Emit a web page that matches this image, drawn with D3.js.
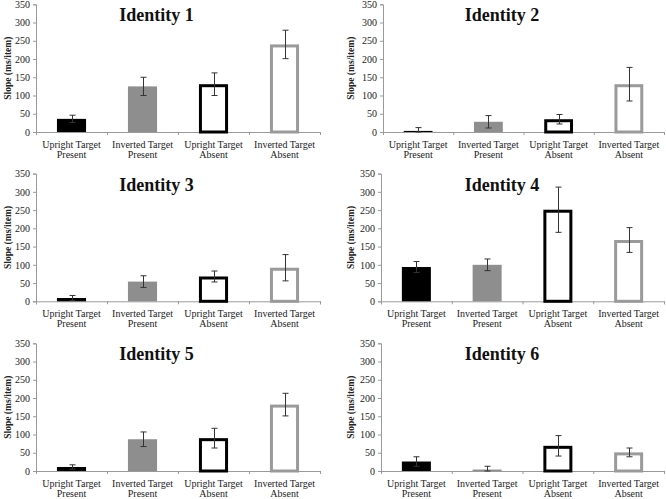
<!DOCTYPE html>
<html>
<head>
<meta charset="utf-8">
<script src="https://cdn.jsdelivr.net/npm/d3@7/dist/d3.min.js"></script>
<style>
  html, body { margin: 0; padding: 0; background: #fff; }
  svg { display: block; }
</style>
</head>
<body>
<svg id="chart" width="666" height="499"></svg>
<script>
// ---- data ----
const categoryLine1 = ["Upright Target", "Inverted Target", "Upright Target", "Inverted Target"];
const categoryLine2 = ["Present", "Present", "Absent", "Absent"];
const panelTitles = ["Identity 1", "Identity 2", "Identity 3", "Identity 4", "Identity 5", "Identity 6"];
const yTicks = [0, 50, 100, 150, 200, 250, 300, 350];
const yLabel = "Slope (ms/item)";

const meansId1 = [36, 125, 131, 240];
const meansId2 = [3, 28, 35, 131];
const meansId3 = [9, 54, 68, 92];
const meansId4 = [94, 100, 251, 168];
const meansId5 = [11, 87, 90, 182];
const meansId6 = [26, 4, 69, 51];

const errId1 = [10, 25, 31, 39];
const errId2 = [9, 17, 13, 46];
const errId3 = [7, 16, 15, 36];
const errId4 = [15, 16, 62, 34];
const errId5 = [6, 20, 27, 31];
const errId6 = [13, 9, 28, 12];

const allMeans = [meansId1, meansId2, meansId3, meansId4, meansId5, meansId6];
const allErrs = [errId1, errId2, errId3, errId4, errId5, errId6];

// ---- layout ----
const FONT = "Liberation Serif";
const colX0 = [36, 381];
const colX1 = [320, 664];
const rowBottom = [132, 301.3, 471];
const plotH = 127.7;
const titleX = [156.5, 502];
const ylabX = [7, 350];

const barStyle = [
  { fill: "#000000", stroke: null },
  { fill: "#8e8e8e", stroke: null },
  { fill: "#ffffff", stroke: "#000000" },
  { fill: "#ffffff", stroke: "#9a9a9a" }
];
const outlineW = 3;

const svg = d3.select("#chart");

panelTitles.forEach((title, i) => {
  const col = i % 2, row = Math.floor(i / 2);
  const x0 = colX0[col] + (i === 1 ? 2 : 0), x1 = colX1[col];
  const yb = rowBottom[row], yt = yb - plotH;

  const x = d3.scaleBand().domain(d3.range(4)).range([x0, x1])
    .paddingInner(0.59).paddingOuter(0.295);
  const y = d3.scaleLinear().domain([0, 350]).range([yb, yt]);

  const g = svg.append("g");

  // y axis
  const yAxis = g.append("g").attr("transform", `translate(${x0},0)`)
    .call(d3.axisLeft(y).tickValues(yTicks).tickSize(3).tickPadding(3));
  yAxis.attr("font-family", null).attr("font-size", null);
  yAxis.select(".domain").attr("stroke", "#9a9a9a");
  yAxis.selectAll(".tick line").attr("stroke", "#9a9a9a");
  yAxis.selectAll(".tick text")
    .style("font-family", FONT)
    .style("font-size", "10px").attr("fill", "#222");

  // x axis with boundary ticks
  const xb = d3.scaleLinear().domain([0, 4]).range([x0, x1]);
  const xAxis = g.append("g").attr("transform", `translate(0,${yb})`)
    .call(d3.axisBottom(xb).tickValues([0, 1, 2, 3, 4]).tickSize(3).tickFormat(""));
  xAxis.select(".domain").attr("stroke", "#9a9a9a");
  xAxis.selectAll(".tick line").attr("stroke", "#9a9a9a");

  // category labels
  const labels = g.append("g");
  d3.range(4).forEach(k => {
    const cx = x(k) + x.bandwidth() / 2;
    const t = labels.append("text").attr("x", cx).attr("y", yb + 15.7)
      .attr("text-anchor", "middle")
      .style("font-family", FONT).style("font-size", "10px").attr("fill", "#222");
    t.append("tspan").attr("x", cx).text(categoryLine1[k]);
    t.append("tspan").attr("x", cx).attr("dy", 10.2).text(categoryLine2[k]);
  });

  // bars
  const means = allMeans[i], errs = allErrs[i];
  g.selectAll("rect.bar").data(means).enter().append("rect")
    .attr("class", "bar")
    .attr("x", (d, k) => x(k) + (barStyle[k].stroke ? outlineW / 2 : 0))
    .attr("width", (d, k) => x.bandwidth() - (barStyle[k].stroke ? outlineW : 0))
    .attr("y", (d, k) => y(d) + (barStyle[k].stroke ? outlineW / 2 : 0))
    .attr("height", (d, k) => Math.max(0, yb - y(d) - (barStyle[k].stroke ? outlineW / 2 : 0)))
    .attr("fill", (d, k) => barStyle[k].fill)
    .attr("stroke", (d, k) => barStyle[k].stroke || "none")
    .attr("stroke-width", outlineW);

  // error bars
  const eb = g.append("g").attr("stroke", "#333").attr("stroke-width", 1);
  means.forEach((m, k) => {
    const cx = Math.round(x(k) + x.bandwidth() / 2) + 0.5;
    const top = y(m + errs[k]), bot = y(Math.max(0, m - errs[k]));
    eb.append("line").attr("x1", cx).attr("x2", cx).attr("y1", top).attr("y2", bot);
    eb.append("line").attr("x1", cx - 3).attr("x2", cx + 3).attr("y1", top).attr("y2", top);
    eb.append("line").attr("x1", cx - 3).attr("x2", cx + 3).attr("y1", bot).attr("y2", bot);
  });

  // title
  g.append("text").attr("x", titleX[col]).attr("y", yt + 17)
    .attr("text-anchor", "middle")
    .style("font-family", FONT)
    .style("font-size", "18px").style("font-weight", "bold").attr("fill", "#111")
    .text(title);

  // y label
  g.append("text")
    .attr("transform", `translate(${ylabX[col] + 3.5},${(yt + yb) / 2}) rotate(-90)`)
    .attr("text-anchor", "middle")
    .style("font-family", FONT)
    .style("font-size", "9.5px").style("font-weight", "bold").attr("fill", "#222")
    .text(yLabel);
});
</script>
</body>
</html>
